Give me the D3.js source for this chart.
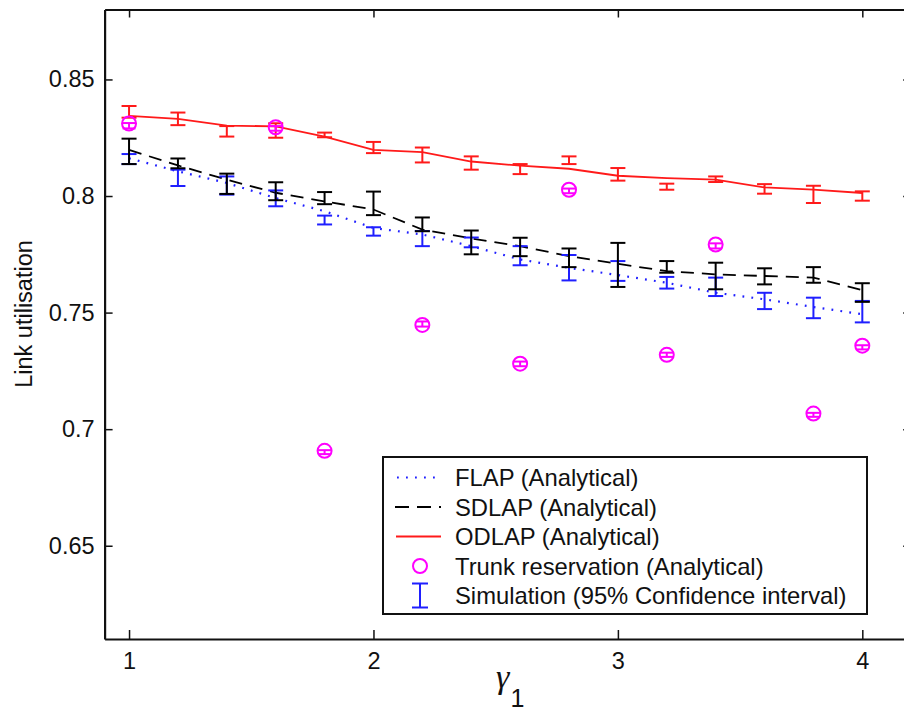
<!DOCTYPE html>
<html>
<head>
<meta charset="utf-8">
<script src="https://cdn.jsdelivr.net/npm/d3@7"></script>
<style>
  html, body { margin: 0; padding: 0; background: #fff; }
  svg { display: block; }
  text { font-family: "Liberation Sans", Arial, Helvetica, sans-serif; fill: #111; }
</style>
</head>
<body>
<svg id="chart" width="904" height="715"></svg>
<script>
// gamma_1 values (x axis)
const gamma = [1.0, 1.2, 1.4, 1.6, 1.8, 2.0, 2.2, 2.4, 2.6, 2.8, 3.0, 3.2, 3.4, 3.6, 3.8, 4.0];

// Analytical curves
const flap  = [0.8162, 0.8106, 0.8056, 0.7991, 0.7935, 0.7863, 0.7835, 0.7785, 0.7728, 0.7692, 0.7661, 0.7628, 0.7585, 0.7557, 0.7524, 0.7493];
const sdlap = [0.8198, 0.8131, 0.8070, 0.8014, 0.7977, 0.7942, 0.7856, 0.7818, 0.7785, 0.7742, 0.7709, 0.7678, 0.7664, 0.7657, 0.7650, 0.7596];
const odlap = [0.8344, 0.8331, 0.8302, 0.8299, 0.8255, 0.8198, 0.8188, 0.8148, 0.8130, 0.8117, 0.8087, 0.8077, 0.8070, 0.8037, 0.8027, 0.8013];

// Trunk reservation (analytical points)
const trunkGamma = [1.0, 1.6, 1.8, 2.2, 2.6, 2.8, 3.2, 3.4, 3.8, 4.0];
const trunk      = [0.8311, 0.8295, 0.6907, 0.7447, 0.7281, 0.8027, 0.7319, 0.7792, 0.7067, 0.7358];

// Simulation 95% confidence intervals
const flapLo  = [0.8137, 0.8043, 0.8006, 0.7956, 0.7878, 0.7830, 0.7785, 0.7780, 0.7703, 0.7638, 0.7636, 0.7603, 0.7571, 0.7515, 0.7476, 0.7458];
const flapHi  = [0.8180, 0.8113, 0.8084, 0.8024, 0.7916, 0.7866, 0.7850, 0.7822, 0.7785, 0.7747, 0.7721, 0.7653, 0.7650, 0.7585, 0.7564, 0.7550];
const sdlapLo = [0.8137, 0.8119, 0.8009, 0.7982, 0.7965, 0.7918, 0.7849, 0.7750, 0.7742, 0.7695, 0.7610, 0.7671, 0.7600, 0.7621, 0.7628, 0.7546];
const sdlapHi = [0.8246, 0.8161, 0.8096, 0.8059, 0.8017, 0.8019, 0.7908, 0.7852, 0.7821, 0.7775, 0.7799, 0.7721, 0.7714, 0.7690, 0.7695, 0.7626];
const odlapLo = [0.8336, 0.8304, 0.8255, 0.8250, 0.8252, 0.8184, 0.8144, 0.8113, 0.8094, 0.8137, 0.8066, 0.8027, 0.8060, 0.8010, 0.7970, 0.7980];
const odlapHi = [0.8386, 0.8358, 0.8300, 0.8312, 0.8272, 0.8232, 0.8208, 0.8170, 0.8137, 0.8170, 0.8120, 0.8053, 0.8084, 0.8051, 0.8044, 0.8020];
const trunkLo = [0.8290, 0.8280, 0.6893, 0.7440, 0.7270, 0.8012, 0.7310, 0.7775, 0.7053, 0.7342];
const trunkHi = [0.8313, 0.8300, 0.6910, 0.7462, 0.7290, 0.8032, 0.7328, 0.7797, 0.7070, 0.7360];

const xTicks = [1, 2, 3, 4];
const yTicks = [0.65, 0.7, 0.75, 0.8, 0.85];
const yTickLabels = ["0.65", "0.7", "0.75", "0.8", "0.85"];

const legendLabels = [
  "FLAP (Analytical)",
  "SDLAP (Analytical)",
  "ODLAP (Analytical)",
  "Trunk reservation (Analytical)",
  "Simulation (95% Confidence interval)"
];

const BLUE = "#1f1fff", BLACK = "#000", RED = "#ff1a1a", MAGENTA = "#ff00ff";

const svg = d3.select("#chart");
const plotLeft = 104.6, plotRight = 911.2, plotTop = 9.5, plotBottom = 639;

const x = d3.scaleLinear().domain([0.9, 4.2]).range([plotLeft, plotRight]);
const y = d3.scaleLinear().domain([0.61, 0.88]).range([plotBottom, plotTop]);

// Axes: ticks point inward on all four sides
const tickFont = "23.5px";
svg.append("g").attr("transform", `translate(0,${plotBottom})`)
  .call(d3.axisBottom(x).tickValues(xTicks).tickSizeInner(-9).tickSizeOuter(0).tickPadding(13).tickFormat(d3.format("d")))
  .call(g => g.selectAll("text").style("font-size", tickFont).attr("fill", "#111"));
svg.append("g").attr("transform", `translate(0,${plotTop})`)
  .call(d3.axisTop(x).tickValues(xTicks).tickSizeInner(-8).tickSizeOuter(0).tickFormat(""));
svg.append("g").attr("transform", `translate(${plotLeft},0)`)
  .call(d3.axisLeft(y).tickValues(yTicks).tickSizeInner(-8).tickSizeOuter(0).tickPadding(10)
    .tickFormat((d, i) => yTickLabels[i]))
  .call(g => g.selectAll("text").style("font-size", tickFont).attr("fill", "#111"));
svg.append("g").attr("transform", `translate(${plotRight},0)`)
  .call(d3.axisRight(y).tickValues(yTicks).tickSizeInner(-8).tickSizeOuter(0).tickFormat(""));
svg.selectAll(".domain").attr("stroke", "#111").attr("stroke-width", 2.2);
svg.selectAll(".tick line").attr("stroke", "#111").attr("stroke-width", 1.5);

// Analytical curves
const line = d3.line().x((d, i) => x(gamma[i])).y(d => y(d));
svg.append("path").datum(flap).attr("d", line).attr("fill", "none")
  .attr("stroke", BLUE).attr("stroke-width", 2.2).attr("stroke-dasharray", "1.8,7.2").attr("stroke-linecap", "butt");
svg.append("path").datum(sdlap).attr("d", line).attr("fill", "none")
  .attr("stroke", BLACK).attr("stroke-width", 1.8).attr("stroke-dasharray", "13,8");
svg.append("path").datum(odlap).attr("d", line).attr("fill", "none")
  .attr("stroke", RED).attr("stroke-width", 1.8);

// Error bars
function errorBars(xs, lo, hi, color, capW) {
  const g = svg.append("g").attr("stroke", color).attr("stroke-width", 2).attr("fill", "none");
  xs.forEach((xv, i) => {
    const cx = x(xv), y0 = y(lo[i]), y1 = y(hi[i]);
    g.append("line").attr("x1", cx).attr("x2", cx).attr("y1", y0).attr("y2", y1);
    g.append("line").attr("x1", cx - capW / 2).attr("x2", cx + capW / 2).attr("y1", y0).attr("y2", y0);
    g.append("line").attr("x1", cx - capW / 2).attr("x2", cx + capW / 2).attr("y1", y1).attr("y2", y1);
  });
}
errorBars(gamma, flapLo, flapHi, BLUE, 15);
errorBars(gamma, sdlapLo, sdlapHi, BLACK, 15);
errorBars(gamma, odlapLo, odlapHi, RED, 15);

// Trunk reservation points with their simulation intervals
svg.append("g").selectAll("circle").data(trunk).join("circle")
  .attr("cx", (d, i) => x(trunkGamma[i])).attr("cy", d => y(d)).attr("r", 7)
  .attr("fill", "none").attr("stroke", MAGENTA).attr("stroke-width", 2);
errorBars(trunkGamma, trunkLo, trunkHi, MAGENTA, 13);

// Axis titles
svg.append("text").attr("transform", "translate(24,314) rotate(-90)")
  .attr("text-anchor", "middle").attr("dominant-baseline", "central")
  .style("font-size", "23.5px").text("Link utilisation");
const xt = svg.append("text").attr("x", 496).attr("y", 688);
xt.append("tspan").style("font-family", "'Liberation Serif', 'Times New Roman', serif")
  .style("font-style", "italic").style("font-size", "34px").text("γ");
xt.append("tspan").attr("dx", 1).attr("dy", 19).style("font-size", "25px").text("1");

// Legend
const lg = svg.append("g");
lg.append("rect").attr("x", 383).attr("y", 457).attr("width", 484).attr("height", 157)
  .attr("fill", "#fff").attr("stroke", "#111").attr("stroke-width", 2);
const rowY = [477.5, 507, 536.5, 566, 595.5];
lg.append("line").attr("x1", 397).attr("x2", 440).attr("y1", rowY[0]).attr("y2", rowY[0])
  .attr("stroke", BLUE).attr("stroke-width", 2.2).attr("stroke-dasharray", "1.8,7.2");
lg.append("line").attr("x1", 395).attr("x2", 441).attr("y1", rowY[1]).attr("y2", rowY[1])
  .attr("stroke", BLACK).attr("stroke-width", 1.8).attr("stroke-dasharray", "14,8");
lg.append("line").attr("x1", 396).attr("x2", 441).attr("y1", rowY[2]).attr("y2", rowY[2])
  .attr("stroke", RED).attr("stroke-width", 1.8);
lg.append("circle").attr("cx", 420).attr("cy", rowY[3]).attr("r", 7)
  .attr("fill", "none").attr("stroke", MAGENTA).attr("stroke-width", 2);
const eb = lg.append("g").attr("stroke", BLUE).attr("stroke-width", 2);
eb.append("line").attr("x1", 420).attr("x2", 420).attr("y1", rowY[4] - 12).attr("y2", rowY[4] + 12);
eb.append("line").attr("x1", 412).attr("x2", 428).attr("y1", rowY[4] - 12).attr("y2", rowY[4] - 12);
eb.append("line").attr("x1", 412).attr("x2", 428).attr("y1", rowY[4] + 12).attr("y2", rowY[4] + 12);
lg.selectAll("text.lbl").data(legendLabels).join("text").attr("class", "lbl")
  .attr("x", 455).attr("y", (d, i) => rowY[i]).attr("dominant-baseline", "central")
  .style("font-size", "23.8px").text(d => d);
</script>
</body>
</html>
